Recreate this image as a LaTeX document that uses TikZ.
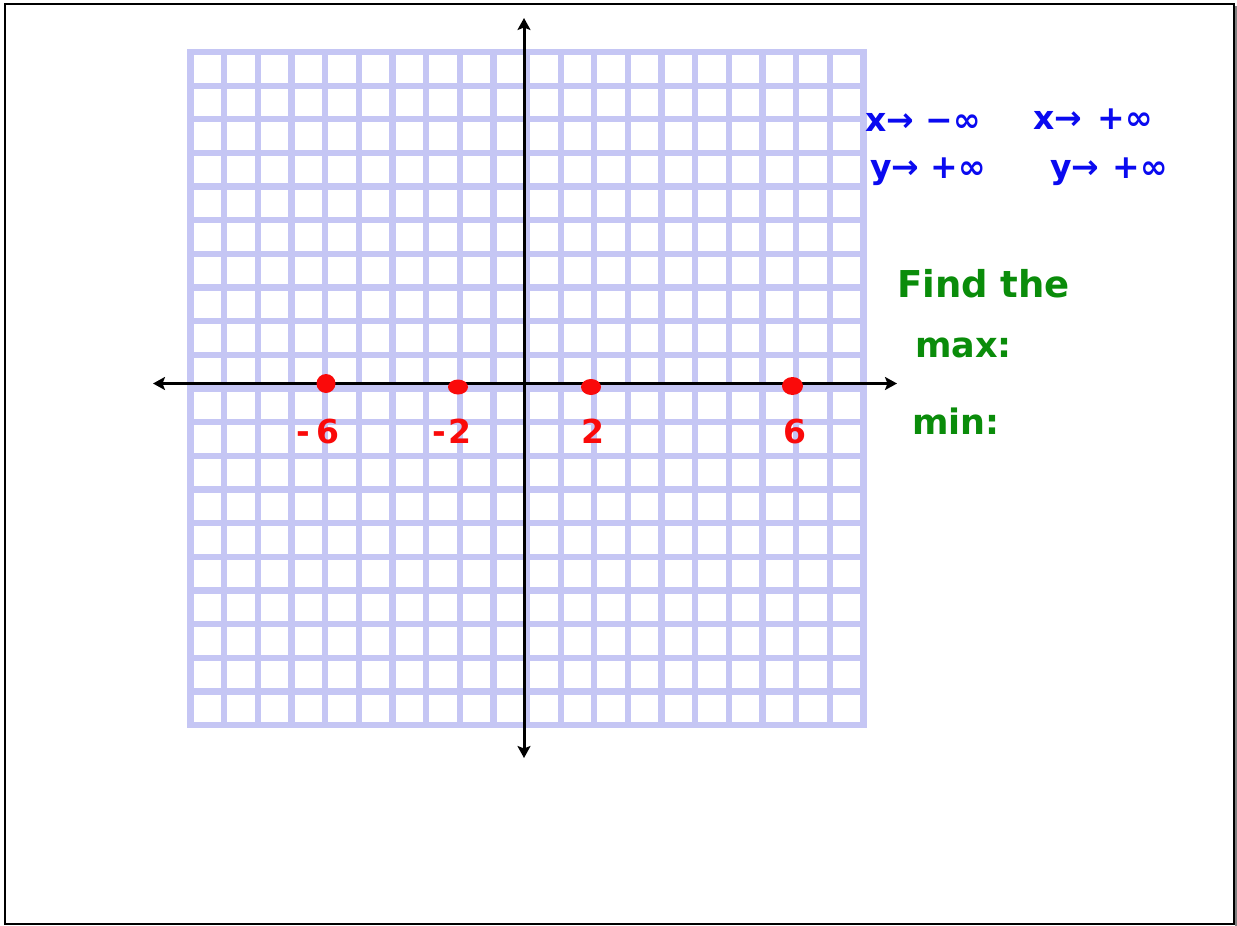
\documentclass[tikz,border=0pt]{standalone}
\usepackage{fontspec}
\setmainfont{DejaVu Sans}
\usetikzlibrary{arrows.meta,shapes.geometric}
\definecolor{gridc}{RGB}{197,198,244}
\definecolor{penblue}{RGB}{10,10,240}
\definecolor{pengreen}{RGB}{10,140,10}
\definecolor{penred}{RGB}{250,10,10}
\begin{document}
\begin{tikzpicture}[x=1pt,y=-1pt,
  gridline/.style={draw=gridc,line width=6.3pt,line cap=rect},
  axisline/.style={draw=black,line width=3pt,{Stealth[length=12pt,width=13pt,inset=2.5pt]}-{Stealth[length=12pt,width=13pt,inset=2.5pt]}},
  bluetxt/.style={text=penblue,font=\bfseries\fontsize{33}{33}\selectfont,anchor=base west,inner sep=0pt},
  greentxt/.style={text=pengreen,font=\bfseries\fontsize{35}{35}\selectfont,anchor=base west,inner sep=0pt},
  redlbl/.style={text=penred,font=\bfseries\fontsize{33}{33}\selectfont,anchor=base,inner sep=0pt},
  reddot/.style={ellipse,fill=penred,inner sep=0pt}]
\useasboundingbox (0,0) rectangle (1237,926);
\fill[white] (0,0) rectangle (1237,926);
\draw[line width=2pt] (5,4) rectangle (1234,924);
\draw[gray,line width=2pt] (1236.3,6) -- (1236.3,926);
% grid
\foreach \i in {0,...,20} {
  \draw[gridline] (190.5+\i*33.65,52) -- (190.5+\i*33.65,725);
  \draw[gridline] (190.5,52+\i*33.65) -- (863.5,52+\i*33.65);
}
% axes
\coordinate (xl) at (153,383.5);
\coordinate (xr) at (897,383.5);
\coordinate (yt) at (524,18);
\coordinate (yb) at (524,758);
\draw[axisline] (xl) -- (xr);
\draw[axisline] (yt) -- (yb);
% points
\node[reddot,minimum width=19pt,minimum height=19pt] (pm6) at (326,383.5) {};
\node[reddot,minimum width=20pt,minimum height=15pt] (pm2) at (458,387) {};
\node[reddot,minimum width=20pt,minimum height=16pt] (pp2) at (591,387) {};
\node[reddot,minimum width=21pt,minimum height=18pt] (pp6) at (792.5,386) {};
% labels
\node[redlbl] (lm6) at (318,443) {-\hspace{7pt}6};
\node[redlbl] (lm2) at (452,443) {-\hspace{3pt}2};
\node[redlbl] (lp2) at (593,443) {2};
\node[redlbl] (lp6) at (795,443) {6};
% end behaviour
\node[bluetxt] (t1) at (865,131) {x→ −∞};
\node[bluetxt] (t2) at (1033,129) {x→\hspace{4pt} +∞};
\node[bluetxt] (t3) at (870,178) {y→ +∞};
\node[bluetxt] (t4) at (1050,178) {y→\hspace{2pt} +∞};
% find the max/min
\node[greentxt,font=\bfseries\fontsize{37}{37}\selectfont] (f1) at (897,297) {Find the};
\node[greentxt] (f2) at (915,357) {max:};
\node[greentxt] (f3) at (912,434) {min:};
\end{tikzpicture}
\end{document}
